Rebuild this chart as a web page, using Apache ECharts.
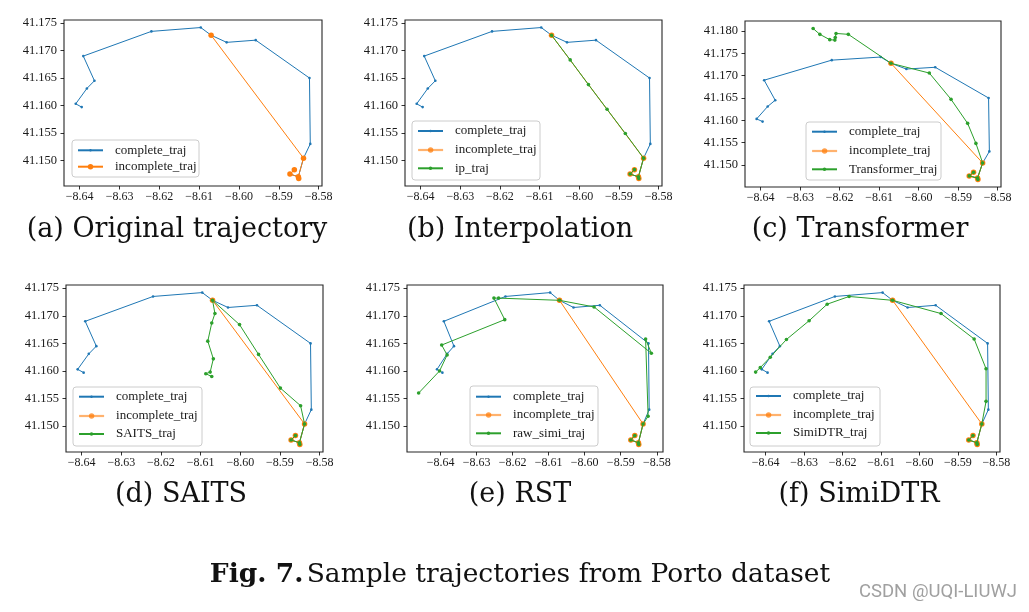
<!DOCTYPE html>
<html><head><meta charset="utf-8">
<script src="https://cdn.jsdelivr.net/npm/echarts@6/dist/echarts.min.js"></script>
<style>html,body{margin:0;padding:0;background:#fff;} #c{width:1029px;height:612px;}</style>
</head><body><div id="c"></div>
<script>
// ---------------- data (longitude / latitude) ----------------
const completeLon = [-8.5861, -8.5872, -8.5851, -8.5850, -8.5838, -8.5821, -8.5823, -8.5958, -8.6031, -8.6070, -8.6096, -8.6220, -8.6391, -8.6363, -8.6382, -8.6410, -8.6395];
const completeLat = [41.1483, 41.1475, 41.1470, 41.1467, 41.1504, 41.1530, 41.1650, 41.1719, 41.1715, 41.1728, 41.1742, 41.1735, 41.1690, 41.1645, 41.1631, 41.1603, 41.1597];

const incompleteLon = [-8.5861, -8.5872, -8.5851, -8.5850, -8.5838, -8.6070];
const incompleteLat = [41.1483, 41.1475, 41.1470, 41.1467, 41.1504, 41.1728];

const ipLon = [-8.5861, -8.5872, -8.5851, -8.5850, -8.5838, -8.5884, -8.5930, -8.5977, -8.6023, -8.6070];
const ipLat = [41.1483, 41.1475, 41.1470, 41.1467, 41.1504, 41.1549, 41.1593, 41.1638, 41.1683, 41.1728];

const transformerLon = [-8.5861, -8.5872, -8.5851, -8.5850, -8.5838, -8.5855, -8.5876, -8.5918, -8.5973, -8.6070, -8.6178, -8.6209, -8.6211, -8.6212, -8.6225, -8.6250, -8.6267];
const transformerLat = [41.1483, 41.1475, 41.1470, 41.1467, 41.1504, 41.1548, 41.1593, 41.1647, 41.1706, 41.1728, 41.1793, 41.1795, 41.1786, 41.1780, 41.1781, 41.1793, 41.1806];

const saitsLon = [-8.5861, -8.5872, -8.5851, -8.5850, -8.5838, -8.5848, -8.5899, -8.5954, -8.6002, -8.6070, -8.6064, -8.6072, -8.6082, -8.6068, -8.6076, -8.6087, -8.6072];
const saitsLat = [41.1483, 41.1475, 41.1470, 41.1467, 41.1504, 41.1537, 41.1569, 41.1630, 41.1684, 41.1728, 41.1704, 41.1687, 41.1654, 41.1622, 41.1598, 41.1595, 41.1590];

const rawSimiLon = [-8.5861, -8.5872, -8.5851, -8.5850, -8.5838, -8.5824, -8.5831, -8.5815, -8.5974, -8.6070, -8.6239, -8.6252, -8.6222, -8.6397, -8.6382, -8.6403, -8.6461];
const rawSimiLat = [41.1483, 41.1475, 41.1470, 41.1467, 41.1504, 41.1518, 41.1658, 41.1632, 41.1716, 41.1728, 41.1732, 41.1732, 41.1693, 41.1647, 41.1629, 41.1600, 41.1560];

const simiDTRLon = [-8.5861, -8.5872, -8.5851, -8.5850, -8.5838, -8.5827, -8.5827, -8.5858, -8.5944, -8.6070, -8.6183, -8.6240, -8.6287, -8.6346, -8.6388, -8.6414, -8.6426];
const simiDTRLat = [41.1483, 41.1475, 41.1470, 41.1467, 41.1504, 41.1545, 41.1604, 41.1658, 41.1704, 41.1728, 41.1735, 41.1721, 41.1691, 41.1657, 41.1625, 41.1606, 41.1598];

const xTicks = [-8.64, -8.63, -8.62, -8.61, -8.60, -8.59, -8.58];
const yTicks = [41.150, 41.155, 41.160, 41.165, 41.170, 41.175];
const yTicksC = [41.150, 41.155, 41.160, 41.165, 41.170, 41.175, 41.180];

const greenNames = [null, 'ip_traj', 'Transformer_traj', 'SAITS_traj', 'raw_simi_traj', 'SimiDTR_traj'];
const panelTitles = ['(a) Original trajectory', '(b) Interpolation', '(c) Transformer', '(d) SAITS', '(e) RST', '(f) SimiDTR'];
const captionBold = 'Fig. 7.';
const captionText = 'Sample trajectories from Porto dataset';
const watermark = 'CSDN @UQI-LIUWJ';

// ---------------- layout ----------------
const greenLon = [null, ipLon, transformerLon, saitsLon, rawSimiLon, simiDTRLon];
const greenLat = [null, ipLat, transformerLat, saitsLat, rawSimiLat, simiDTRLat];
const panelYTicks = [yTicks, yTicks, yTicksC, yTicks, yTicks, yTicks];
const letters = ['a','b','c','d','e','f'];
const grids = [
  {left: 64, top: 20, width: 258, height: 166},
  {left: 405, top: 20, width: 257, height: 166},
  {left: 745, top: 21, width: 256, height: 166},
  {left: 66, top: 285, width: 257, height: 167},
  {left: 407, top: 285, width: 256, height: 167},
  {left: 744, top: 285, width: 256, height: 167}
];
const legendBoxes = [
  {x: 72, y: 140, w: 127, h: 37, lx: 77, rows: [150.3, 166.7]},
  {x: 412, y: 121, w: 128, h: 59, lx: 417, rows: [131, 150, 168.3]},
  {x: 806, y: 122, w: 135, h: 58, lx: 811, rows: [131.7, 151, 169.3]},
  {x: 73, y: 387, w: 129, h: 59, lx: 78, rows: [396.7, 416, 434]},
  {x: 470, y: 386, w: 128, h: 60, lx: 475, rows: [396.7, 415, 433.3]},
  {x: 750, y: 387, w: 130, h: 59, lx: 755, rows: [396, 415, 433]}
];
const titlePos = [[177, 230], [520, 230], [860, 230], [181, 495], [520, 495], [859, 495]];

const BLUE = '#1f77b4', ORANGE = '#ff7f0e', GREEN = '#2ca02c';
const SERIF = '"Liberation Serif", "Times New Roman", serif';
const TITLE_SERIF = '"DejaVu Serif", "Liberation Serif", serif';

function pairs(lon, lat) { return lon.map((v, i) => [v, lat[i]]); }
function range(arrs) {
  let mn = Infinity, mx = -Infinity;
  arrs.forEach(a => a.forEach(v => { mn = Math.min(mn, v); mx = Math.max(mx, v); }));
  const p = (mx - mn) * 0.05;
  return [mn - p, mx + p];
}
const fmtX = v => (v < 0 ? '\u2212' : '') + Math.abs(v).toFixed(2);
const fmtY = v => v.toFixed(3);

const option = {
  animation: false,
  backgroundColor: '#fff',
  grid: [], xAxis: [], yAxis: [], series: [], legend: [], graphic: []
};

for (let i = 0; i < 6; i++) {
  const g = grids[i];
  option.grid.push(Object.assign({show: true, borderColor: '#262626', borderWidth: 1.1, backgroundColor: 'transparent', containLabel: false, outerBoundsMode: 'none'}, g));
  const lonArrs = [completeLon, incompleteLon];
  const latArrs = [completeLat, incompleteLat];
  if (greenLon[i]) { lonArrs.push(greenLon[i]); latArrs.push(greenLat[i]); }
  const xr = range(lonArrs), yr = range(latArrs);
  option.xAxis.push({
    type: 'value', gridIndex: i, min: xr[0], max: xr[1], scale: true,
    axisLine: {show: false},
    splitLine: {show: false},
    axisTick: {show: true, inside: false, length: 3.5, lineStyle: {color: '#000', width: 0.8}, customValues: xTicks},
    axisLabel: {show: true, customValues: xTicks, formatter: fmtX, fontFamily: SERIF, fontSize: 12, color: '#1a1a1a', margin: 5}
  });
  option.yAxis.push({
    type: 'value', gridIndex: i, min: yr[0], max: yr[1], scale: true,
    axisLine: {show: false},
    splitLine: {show: false},
    axisTick: {show: true, inside: false, length: 3.5, lineStyle: {color: '#000', width: 0.8}, customValues: panelYTicks[i]},
    axisLabel: {show: true, customValues: panelYTicks[i], formatter: fmtY, fontFamily: SERIF, fontSize: 12.5, color: '#1a1a1a', margin: 7}
  });
  const L = letters[i];
  const common = {type: 'line', xAxisIndex: i, yAxisIndex: i, showSymbol: true, showAllSymbol: true, symbol: 'circle', silent: true, emphasis: {disabled: true}, clip: false};
  option.series.push(Object.assign({}, common, {
    name: 'complete_traj#' + L, data: pairs(completeLon, completeLat), symbolSize: 2.6,
    itemStyle: {color: BLUE}, lineStyle: {color: BLUE, width: 1}, z: 2
  }));
  option.series.push(Object.assign({}, common, {
    name: 'incomplete_traj#' + L, data: pairs(incompleteLon, incompleteLat), symbolSize: 5.5,
    itemStyle: {color: ORANGE}, lineStyle: {color: ORANGE, width: 1}, z: 3
  }));
  const names = ['complete_traj#' + L, 'incomplete_traj#' + L];
  const heights = [3, 6.8];
  if (greenLon[i]) {
    option.series.push(Object.assign({}, common, {
      name: greenNames[i] + '#' + L, data: pairs(greenLon[i], greenLat[i]), symbolSize: 3.6,
      itemStyle: {color: GREEN}, lineStyle: {color: GREEN, width: 1}, z: 4
    }));
    names.push(greenNames[i] + '#' + L);
    heights.push(4.5);
  }
  const lb = legendBoxes[i];
  option.graphic.push({
    type: 'rect', z: 50, silent: true,
    shape: {x: lb.x, y: lb.y, width: lb.w, height: lb.h, r: 3},
    style: {fill: 'rgba(255,255,255,0.8)', stroke: '#cccccc', lineWidth: 1}
  });
  names.forEach((nm, k) => {
    const leg = {
      show: true, z: 60, selectedMode: false, orient: 'horizontal', padding: 0,
      left: lb.lx, top: lb.rows[k] - 6.5,
      itemWidth: 25, itemHeight: heights[k], itemGap: 0,
      data: [nm],
      formatter: n => n.split('#')[0],
      textStyle: {fontFamily: SERIF, fontSize: 13, color: '#1a1a1a', padding: [0, 0, 0, 7]}
    };
    if (k === 1 && i > 0) {
      leg.lineStyle = {width: 2.2, opacity: 0.6};
      leg.itemStyle = {opacity: 0.75};
    }
    option.legend.push(leg);
  });
  option.graphic.push({
    type: 'text', x: titlePos[i][0], y: titlePos[i][1], silent: true,
    style: {text: panelTitles[i], fontFamily: TITLE_SERIF, fontSize: 27, fill: '#111', align: 'center', verticalAlign: 'middle'}
  });
}

option.graphic.push({
  type: 'text', x: 520, y: 575, silent: true,
  style: {
    text: '{b|' + captionBold + '} {n|' + captionText + '}',
    align: 'center', verticalAlign: 'middle',
    rich: {
      b: {fontFamily: TITLE_SERIF, fontSize: 26.5, fontWeight: 'bold', fill: '#111'},
      n: {fontFamily: TITLE_SERIF, fontSize: 26.5, fill: '#111'}
    }
  }
});
option.graphic.push({
  type: 'text', x: 1017, y: 592, silent: true,
  style: {text: watermark, fontFamily: '"Liberation Sans Narrow", "Roboto", sans-serif', fontSize: 18.5, fill: '#a0a0a0', align: 'right', verticalAlign: 'middle'}
});

const chart = echarts.init(document.getElementById('c'), null, {renderer: 'canvas'});
chart.setOption(option);
</script>
</body></html>
